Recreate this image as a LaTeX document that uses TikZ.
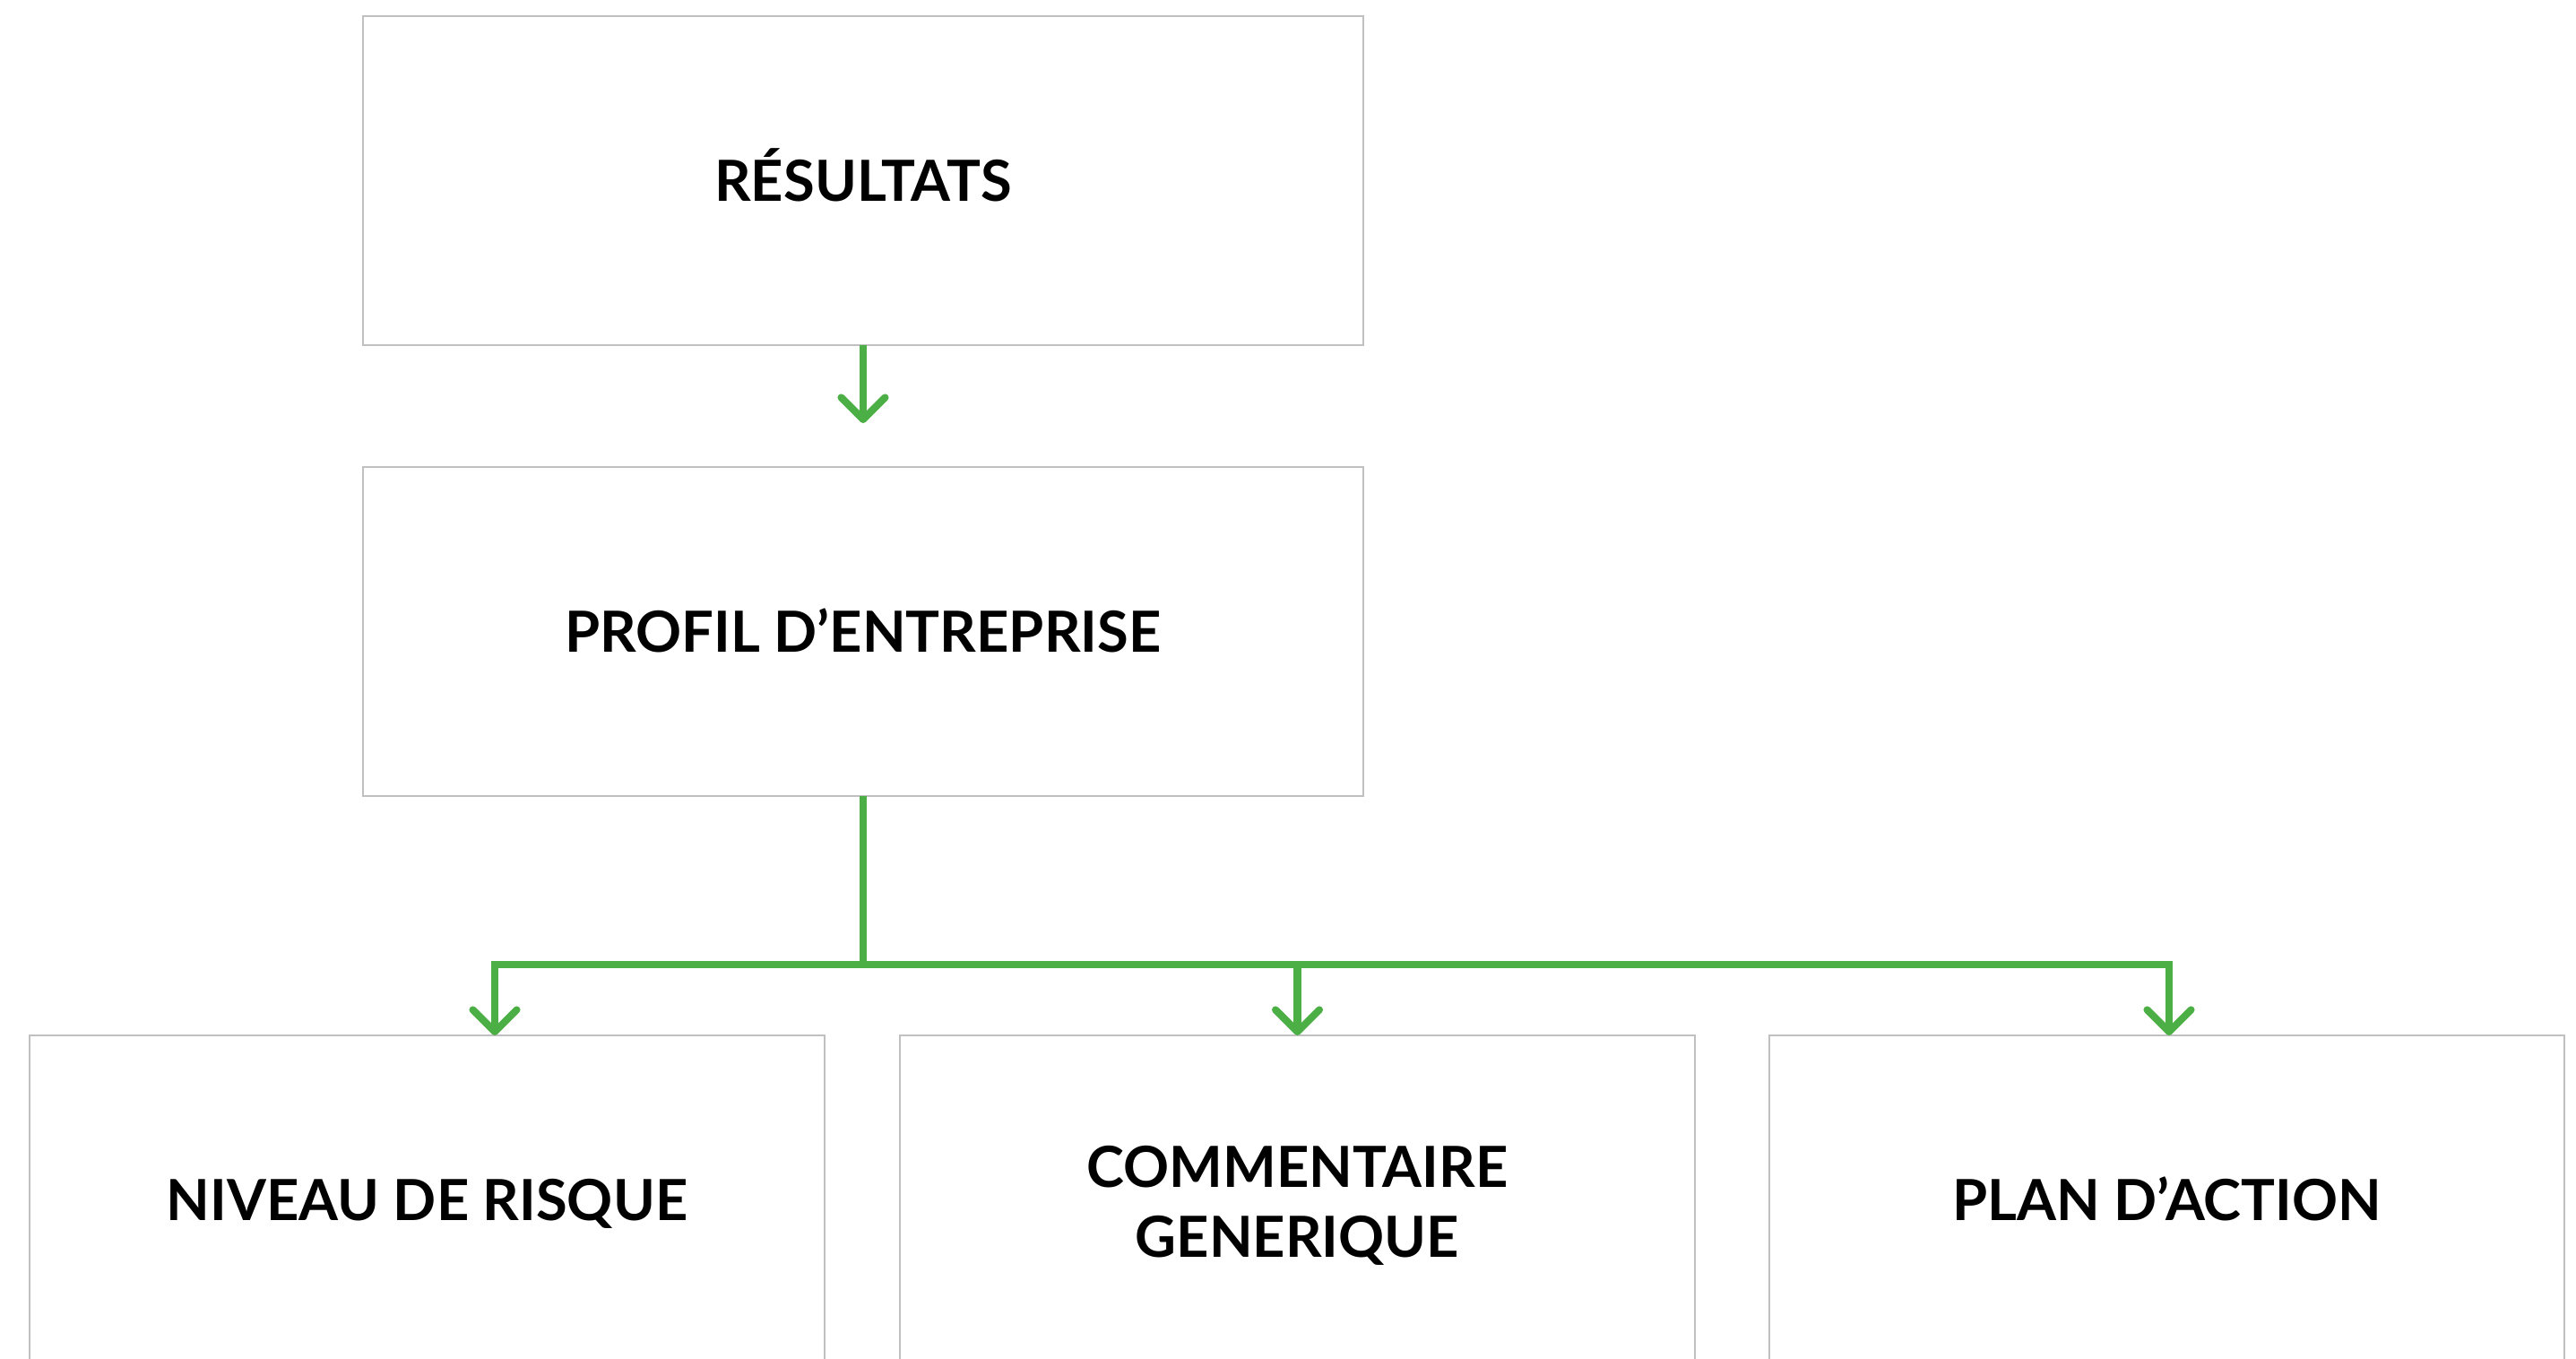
\documentclass[tikz,border=0pt]{standalone}
\usepackage{fontspec}
\setmainfont{Lato}
\usepackage{tikz}
\usetikzlibrary{positioning,arrows.meta,calc}

\definecolor{boxgray}{RGB}{192,192,192}
\definecolor{flowgreen}{RGB}{76,175,69}

\begin{document}
\begin{tikzpicture}[box/.style={draw=boxgray, line width=0.7pt, fill=white, outer sep=0pt,
				      minimum width=11.16cm, minimum height=3.67cm,
				      align=center, font=\fontsize{18}{22.2}\selectfont\bfseries},
				      oneline/.style={text height=12.9pt, text depth=0pt},
				      smallbox/.style={box, minimum width=8.87cm},
				      link/.style={draw=flowgreen, line width=2.3pt, line join=miter,
				      -{Straight Barb[length=2.45mm,width=4.9mm,round]}},
				      bar/.style={draw=flowgreen, line width=2.3pt}]
			      \clip (0,0) rectangle (28.74,-15.16);
			      \useasboundingbox (0,0) rectangle (28.74,-15.16);
			      % the two boxes on top
			      \node[box, oneline] (res) at (9.63,-2.015) {RÉSULTATS};
			      \node[box, oneline, below=1.36cm of res] (prof) {PROFIL D’ENTREPRISE};
			      % the three boxes at the bottom
			      \node[smallbox, oneline] (risk) at (4.765,-13.385) {NIVEAU DE RISQUE};
			      \node[smallbox] (comm) at (14.475,-13.385) {\rule{0pt}{16.8pt}COMMENTAIRE\\GENERIQUE};
			      \node[smallbox, oneline] (plan) at (24.175,-13.385) {PLAN D’ACTION};
			      % connectors
			      \draw[link, shorten >=0.49cm] (res.south) -- (prof.north);
			      \coordinate (split) at ($(prof.south)+(0,-1.88)$);
			      \coordinate (left) at (5.52,0 |- split);
			      \coordinate (right) at (24.20,0 |- split);
			      \draw[bar] (prof.south) -- (split);
			      \draw[link] (split) -- (left) -- (left |- risk.north);
			      \draw[link] (split) -- (right) -- (right |- plan.north);
			      \draw[link] (comm.north |- split) -- (comm.north);
		      \end{tikzpicture}
\end{document}
